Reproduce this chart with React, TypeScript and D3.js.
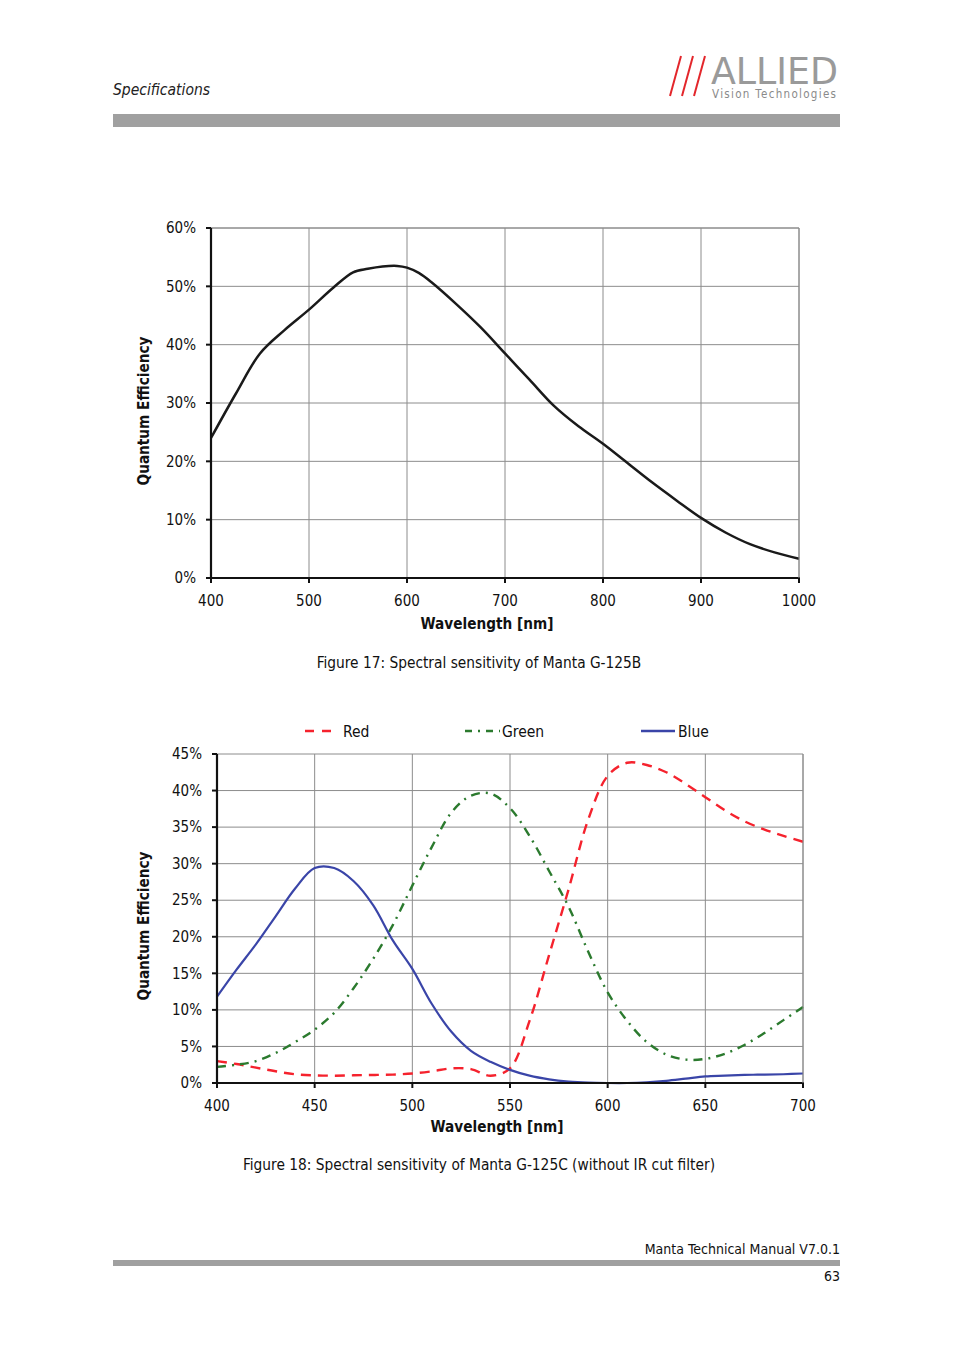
import React from 'react';
import * as d3 from 'd3';

// Figure 17 – monochrome QE (percent)
const monoWl = [400, 425, 450, 475, 500, 525, 545, 560, 575, 590, 600, 612, 625, 650, 675, 700, 725, 750, 775, 800, 825, 850, 875, 900, 925, 950, 975, 1000];
const monoQe = [24, 31.5, 38.5, 42.5, 46, 49.8, 52.4, 53.0, 53.4, 53.5, 53.2, 52.3, 50.7, 47, 43, 38.5, 34, 29.5, 26, 23, 19.7, 16.4, 13.3, 10.3, 7.8, 5.8, 4.4, 3.3];
const monoXTicks = [400, 500, 600, 700, 800, 900, 1000];
const monoYTicks = [0, 10, 20, 30, 40, 50, 60];

// Figure 18 – colour QE (percent)
const colorWl = [400, 410, 420, 430, 440, 450, 460, 470, 480, 490, 500, 510, 520, 530, 540, 550, 560, 570, 580, 590, 600, 610, 620, 630, 640, 650, 660, 670, 680, 690, 700];
const redQe = [3.0, 2.6, 2.1, 1.6, 1.2, 1.05, 1.0, 1.05, 1.1, 1.15, 1.3, 1.6, 2.0, 1.9, 1.0, 2.0, 8.5, 17.5, 26.5, 36, 42, 43.8, 43.5, 42.5, 40.9, 39.1, 37.3, 35.8, 34.7, 33.8, 33.0];
const greenQe = [2.2, 2.5, 3.0, 4.1, 5.6, 7.3, 9.6, 13.0, 17.0, 21.6, 27.0, 32.3, 37.0, 39.3, 39.6, 37.6, 33.8, 29.0, 24.1, 18.0, 12.4, 8.5, 5.6, 3.9, 3.2, 3.3, 4.0, 5.2, 6.8, 8.6, 10.4];
const blueQe = [11.8, 15.5, 19.0, 22.8, 26.6, 29.4, 29.4, 27.6, 24.3, 19.5, 15.6, 10.8, 7.0, 4.4, 2.9, 1.8, 1.0, 0.5, 0.2, 0.05, 0, 0, 0.1, 0.3, 0.6, 0.9, 1.0, 1.1, 1.15, 1.2, 1.3];
const colorXTicks = [400, 450, 500, 550, 600, 650, 700];
const colorYTicks = [0, 5, 10, 15, 20, 25, 30, 35, 40, 45];

const FONT = '"DejaVu Sans Condensed", "DejaVu Sans", sans-serif';
const GRID = '#8c8c8c';

const series = [
  { name: 'Red', values: redQe, color: '#f5222d', dash: '10,7' },
  { name: 'Green', values: greenQe, color: '#2b7a2e', dash: '9,6,2,6' },
  { name: 'Blue', values: blueQe, color: '#3a45a8', dash: null },
];

function Chart({ x0, x1, y0, y1, xDomain, yDomain, xTicks, yTicks, labelX, xTitle, yTitle, children }) {
  const x = d3.scaleLinear().domain(xDomain).range([x0, x1]);
  const y = d3.scaleLinear().domain(yDomain).range([y0, y1]);
  return (
    <g fontFamily={FONT}>
      {xTicks.slice(1).map(t => (
        <line key={'vx' + t} x1={x(t)} x2={x(t)} y1={y0} y2={y1} stroke={GRID} strokeWidth={1} />
      ))}
      {yTicks.slice(1).map(t => (
        <line key={'hy' + t} x1={x0} x2={x1} y1={y(t)} y2={y(t)} stroke={GRID} strokeWidth={1} />
      ))}
      {children(x, y)}
      <line x1={x0} x2={x0} y1={y0 + 1} y2={y1} stroke="#111" strokeWidth={2.2} />
      <line x1={x0 - 1} x2={x1 + 1} y1={y0} y2={y0} stroke="#111" strokeWidth={2.2} />
      {yTicks.map(t => (
        <g key={'yt' + t}>
          <line x1={x0 - 5} x2={x0} y1={y(t)} y2={y(t)} stroke="#111" strokeWidth={2} />
          <text x={labelX} y={y(t)} dy="0.35em" textAnchor="end" fontSize={15} fill="#111">{t + '%'}</text>
        </g>
      ))}
      {xTicks.map(t => (
        <g key={'xt' + t}>
          <line x1={x(t)} x2={x(t)} y1={y0} y2={y0 + 5} stroke="#111" strokeWidth={2} />
          <text x={x(t)} y={y0 + 28} textAnchor="middle" fontSize={15} fill="#111">{t}</text>
        </g>
      ))}
      <text x={xTitle[0]} y={xTitle[1]} textAnchor="middle" fontSize={15.2} fontWeight="bold" fill="#111">Wavelength [nm]</text>
      <text transform={`translate(${yTitle[0]},${yTitle[1]}) rotate(-90)`} textAnchor="middle" fontSize={15.2} fontWeight="bold" fill="#111">Quantum Efficiency</text>
    </g>
  );
}

export default function App() {
  const monoData = monoWl.map((w, i) => ({ w, v: monoQe[i] }));
  const curve = d3.curveCatmullRom.alpha(0.5);

  return (
    <svg width={954} height={1350} style={{ display: 'block', margin: '-8px', background: '#fff' }}>
      <rect width={954} height={1350} fill="#fff" />
      {/* header */}
      <text x={113} y={95} fontFamily={FONT} fontStyle="italic" fontSize={15.5} fill="#222">Specifications</text>
      <g>
        {[0, 12, 24].map(d => (
          <line key={d} x1={681 + d} y1={56} x2={670 + d} y2={96} stroke="#e3262b" strokeWidth={2} />
        ))}
        <text x={711} y={84} fontFamily={FONT} fontSize={38} fill="#9a9a9a" textLength={127} lengthAdjust="spacingAndGlyphs">ALLIED</text>
        <text x={712} y={98} fontFamily={FONT} fontSize={11.5} fill="#8a8a8a" textLength={124} lengthAdjust="spacing">Vision Technologies</text>
      </g>
      <rect x={113} y={114} width={727} height={13} fill="#a0a0a0" />

      {/* Figure 17 */}
      <line x1={211} x2={799} y1={228} y2={228} stroke={GRID} />
      <Chart x0={211} x1={799} y0={578} y1={228} xDomain={[400, 1000]} yDomain={[0, 60]}
        xTicks={monoXTicks} yTicks={monoYTicks} labelX={196} xTitle={[487, 629]} yTitle={[149, 411]}>
        {(x, y) => {
          const line = d3.line().x(d => x(d.w)).y(d => y(d.v)).curve(curve);
          return <path d={line(monoData)} fill="none" stroke="#1a1a1a" strokeWidth={2.5} />;
        }}
      </Chart>
      <line x1={799} x2={799} y1={228} y2={578} stroke={GRID} />
      <text x={479} y={668} textAnchor="middle" fontFamily={FONT} fontSize={15.3} fill="#111">Figure 17: Spectral sensitivity of Manta G-125B</text>

      {/* legend */}
      <g fontFamily={FONT} fontSize={15.5} fill="#111">
        {series.map((s, i) => {
          const lx = [305, 465, 641][i];
          const lw = [28, 35, 34][i];
          const tx = [343, 502, 678][i];
          return (
            <g key={s.name}>
              <line x1={lx} x2={lx + lw} y1={731} y2={731} stroke={s.color} strokeWidth={2.4}
                strokeDasharray={s.dash ? (i === 1 ? '7,6,2,6' : '9,8') : undefined} />
              <text x={tx} y={737}>{s.name}</text>
            </g>
          );
        })}
      </g>

      {/* Figure 18 */}
      <Chart x0={217} x1={803} y0={1083} y1={754} xDomain={[400, 700]} yDomain={[0, 45]}
        xTicks={colorXTicks} yTicks={colorYTicks} labelX={202} xTitle={[497, 1132]} yTitle={[149, 926]}>
        {(x, y) => {
          const line = d3.line().x(d => x(d.w)).y(d => y(d.v)).curve(curve);
          return series.map(s => (
            <path key={s.name} d={line(colorWl.map((w, i) => ({ w, v: s.values[i] })))} fill="none"
              stroke={s.color} strokeWidth={s.dash ? 2.4 : 2.2} strokeDasharray={s.dash || undefined} />
          ));
        }}
      </Chart>
      <line x1={803} x2={803} y1={754} y2={1083} stroke={GRID} />
      <text x={479} y={1170} textAnchor="middle" fontFamily={FONT} fontSize={15.3} fill="#111">Figure 18: Spectral sensitivity of Manta G-125C (without IR cut filter)</text>

      {/* footer */}
      <text x={840} y={1254} textAnchor="end" fontFamily={FONT} fontSize={14} fill="#111">Manta Technical Manual V7.0.1</text>
      <rect x={113} y={1260} width={727} height={6} fill="#a0a0a0" />
      <text x={840} y={1281} textAnchor="end" fontFamily={FONT} fontSize={14} fill="#111">63</text>
    </svg>
  );
}
